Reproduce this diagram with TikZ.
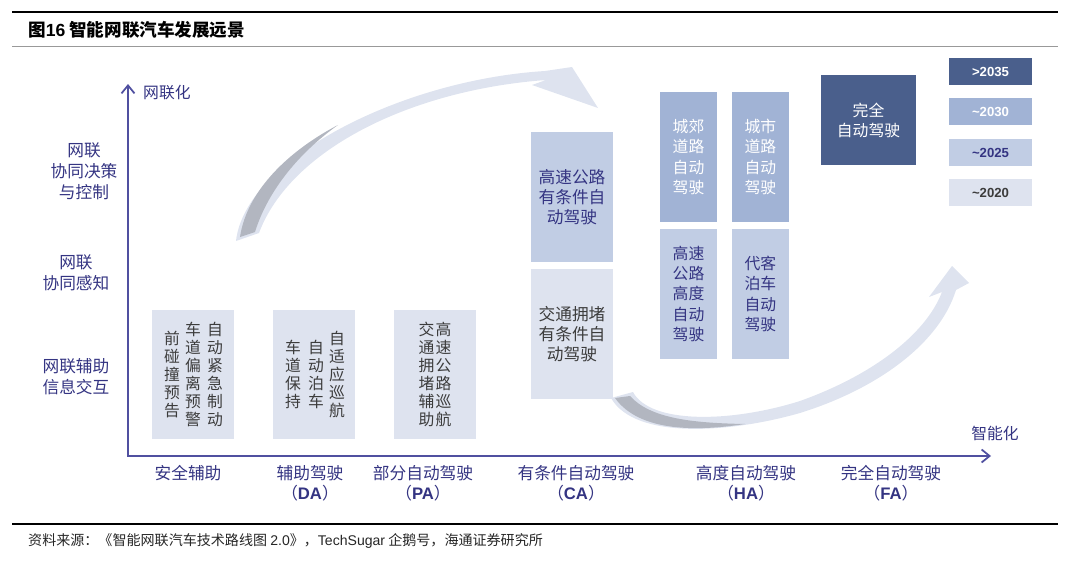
\documentclass[tikz,border=0pt]{standalone}
\usepackage{fontspec}
\setmainfont{Liberation Sans}
\newfontfamily\cjk{Noto Sans CJK SC}
\usetikzlibrary{positioning,arrows.meta}
\definecolor{axisBlue}{RGB}{80,80,160}
\definecolor{labelBlue}{RGB}{52,52,130}
\definecolor{stage1}{RGB}{222,227,239}
\definecolor{stage2}{RGB}{193,205,228}
\definecolor{stage3}{RGB}{161,179,213}
\definecolor{stage4}{RGB}{74,95,140}
\definecolor{swooshGray}{RGB}{178,182,192}
\definecolor{boxText}{RGB}{60,60,60}
\newcommand{\stageabbr}[1]{（{\rmfamily\bfseries #1}）}

\begin{document}
\begin{tikzpicture}[x=0.02cm, y=-0.02cm,
    stagebox/.style={minimum width=1.64cm, minimum height=2.58cm, inner sep=0pt, outer sep=0pt, align=center},
    habox/.style={minimum width=1.14cm, minimum height=2.6cm, inner sep=0pt, outer sep=0pt, align=center, font=\cjk\fontsize{9}{11.6}\selectfont},
    legendbox/.style={minimum width=1.66cm, minimum height=0.54cm, inner sep=0pt, outer sep=0pt, font=\bfseries\fontsize{7.5}{9}\selectfont},
    vcol/.style={inner sep=0pt, align=center, text=boxText, font=\cjk\fontsize{9}{10.2}\selectfont},
    levellabel/.style={align=center, text=labelBlue, font=\cjk\fontsize{9.5}{11.9}\selectfont},
    stagelabel/.style={align=center, text=labelBlue, font=\cjk\fontsize{9.5}{11.4}\selectfont},
    axis/.style={axisBlue, line width=1pt, {Straight Barb[length=0.16cm,width=0.26cm]}-{Straight Barb[length=0.16cm,width=0.26cm]}},
]
\useasboundingbox (0,0) rectangle (1080,561);

% Frame
\draw[line width=0.8pt] (12,12) -- (1058,12);
\draw[black!40, line width=0.5pt] (12,46) -- (1058,46);
\draw[line width=0.8pt] (12,524) -- (1058,524);
\node[anchor=west, font=\cjk\bfseries\fontsize{10}{12}\selectfont] (title) at (22,30) {图{\rmfamily\bfseries 16} 智能网联汽车发展远景};
\node[anchor=west, text=black!85, font=\cjk\fontsize{8}{10}\selectfont] (source) at (22,541) {资料来源：《智能网联汽车技术路线图 {\rmfamily 2.0}》，{\rmfamily TechSugar} 企鹅号，海通证券研究所};

% Swooshes
\fill[stage1] (236,241) .. controls (245,160) and (400,80) .. (545,71) -- (572,67) -- (598,108) -- (532,85) -- (546,80)
    .. controls (410,90) and (290,150) .. (259,233) -- cycle;
\fill[swooshGray] (240,237) .. controls (247,190) and (290,150) .. (338,125) .. controls (300,152) and (268,190) .. (255,232) -- cycle;
\fill[stage1] (611,398) .. controls (635,440) and (730,433) .. (800,413) .. controls (880,388) and (940,342) .. (956,290)
    -- (969,283) -- (952,266) -- (929,297) -- (942,292) .. controls (925,336) and (870,376) .. (800,401)
    .. controls (730,423) and (650,424) .. (633,392) -- cycle;
\fill[swooshGray] (615,398) .. controls (640,433) and (700,431) .. (745,424) .. controls (690,423) and (650,418) .. (630,396) -- cycle;

% Axes
\coordinate (origin) at (128,456);
\coordinate (ytip) at (128,84);
\coordinate (xtip) at (991,456);
\draw[axis] (ytip) -- (origin) -- (xtip);
\node[anchor=west, text=labelBlue, font=\cjk\fontsize{9}{11}\selectfont] (netLabel) at (137,93) {网联化};
\node[text=labelBlue, font=\cjk\fontsize{9}{11}\selectfont] (smartLabel) at (995,433) {智能化};

% Connectivity levels
\node[levellabel] (lvDecide) at (84,171) {网联\\协同决策\\与控制};
\node[levellabel] (lvSense) at (76,273) {网联\\协同感知};
\node[levellabel] (lvInfo) at (76,377) {网联辅助\\信息交互};

% SA / DA / PA boxes
\node[stagebox, fill=stage1] (sa) at (193,374.5) {};
\node[stagebox, fill=stage1, right=0.78cm of sa] (da) {};
\node[stagebox, fill=stage1, right=0.78cm of da] (pa) {};

\node[vcol] (aeb) at ([xshift=0.44cm]sa.center) {自\\动\\紧\\急\\制\\动};
\node[vcol] (ldw) at (sa.center) {车\\道\\偏\\离\\预\\警};
\node[vcol] (fcw) at ([xshift=-0.42cm]sa.center) {前\\碰\\撞\\预\\告};
\node[vcol] (acc) at ([xshift=0.46cm]da.center) {自\\适\\应\\巡\\航};
\node[vcol] (apk) at ([xshift=0.04cm]da.center) {自\\动\\泊\\车};
\node[vcol] (lka) at ([xshift=-0.42cm]da.center) {车\\道\\保\\持};
\node[vcol] (hwa) at ([xshift=0.17cm]pa.center) {高\\速\\公\\路\\巡\\航};
\node[vcol] (tja) at ([xshift=-0.17cm]pa.center) {交\\通\\拥\\堵\\辅\\助};

% CA boxes
\node[stagebox, minimum height=2.6cm, fill=stage2, text=labelBlue, font=\cjk\fontsize{9.5}{11.4}\selectfont] (caHigh) at (572,197) {高速公路\\有条件自\\动驾驶};
\node[stagebox, minimum height=2.6cm, fill=stage1, text=boxText, font=\cjk\fontsize{9.5}{11.4}\selectfont, below=0.14cm of caHigh] (caJam) {交通拥堵\\有条件自\\动驾驶};

% HA boxes
\node[habox, fill=stage3, text=white] (haSuburb) at (688.5,157) {城郊\\道路\\自动\\驾驶};
\node[habox, fill=stage3, text=white, right=0.3cm of haSuburb] (haCity) {城市\\道路\\自动\\驾驶};
\node[habox, fill=stage2, text=labelBlue, below=0.14cm of haSuburb] (haHighway) {高速\\公路\\高度\\自动\\驾驶};
\node[habox, fill=stage2, text=labelBlue, below=0.14cm of haCity] (haValet) {代客\\泊车\\自动\\驾驶};

% FA box
\node[fill=stage4, text=white, minimum width=1.9cm, minimum height=1.8cm, align=center, font=\cjk\fontsize{9}{11.4}\selectfont] (fa) at (868.5,120) {完全\\自动驾驶};

% Legend
\node[legendbox, fill=stage4, text=white] (y2035) at (990.5,71.5) {>2035};
\node[legendbox, fill=stage3, text=white, below=0.27cm of y2035] (y2030) {\textasciitilde2030};
\node[legendbox, fill=stage2, text=labelBlue, below=0.27cm of y2030] (y2025) {\textasciitilde2025};
\node[legendbox, fill=stage1, text=boxText, below=0.27cm of y2025] (y2020) {\textasciitilde2020};

% Stage labels
\node[stagelabel] (lbSA) at (188,473) {安全辅助};
\node[stagelabel] (lbDA) at (310,483) {辅助驾驶\\\stageabbr{DA}};
\node[stagelabel] (lbPA) at (423,483) {部分自动驾驶\\\stageabbr{PA}};
\node[stagelabel] (lbCA) at (576,483) {有条件自动驾驶\\\stageabbr{CA}};
\node[stagelabel] (lbHA) at (746,483) {高度自动驾驶\\\stageabbr{HA}};
\node[stagelabel] (lbFA) at (891,483) {完全自动驾驶\\\stageabbr{FA}};
\end{tikzpicture}
\end{document}
